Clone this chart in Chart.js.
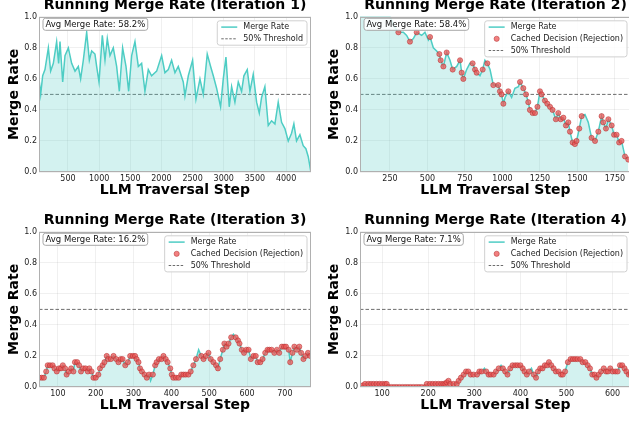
<!DOCTYPE html>
<html>
<head>
<meta charset="utf-8">
<script src="https://cdn.jsdelivr.net/npm/chart.js@4.4.1/dist/chart.umd.min.js"></script>
<style>
  body { margin: 0; background: #fff; }
  #wrap { position: relative; width: 629px; height: 421px; overflow: hidden; background: #fff; }
  #wrap canvas { position: absolute; }
</style>
</head>
<body>
<div id="wrap">
  <canvas id="c1" width="320" height="210" style="left:0px;top:-10px"></canvas>
  <canvas id="c2" width="320" height="210" style="left:320px;top:-10px"></canvas>
  <canvas id="c3" width="320" height="210" style="left:0px;top:205px"></canvas>
  <canvas id="c4" width="320" height="210" style="left:320px;top:205px"></canvas>
</div>
<script>
// 値は画像から目視で読み取り
const titles = [
  "Running Merge Rate (Iteration 1)",
  "Running Merge Rate (Iteration 2)",
  "Running Merge Rate (Iteration 3)",
  "Running Merge Rate (Iteration 4)"
];
const avgRates = ["58.2%", "58.4%", "16.2%", "7.1%"];
const threshold = 0.5;
const yTicks = [0, 0.2, 0.4, 0.6, 0.8, 1.0];

const xTicks1 = [500, 1000, 1500, 2000, 2500, 3000, 3500, 4000];
const xTicks2 = [250, 500, 750, 1000, 1250, 1500, 1750];
const xTicks3 = [100, 200, 300, 400, 500, 600, 700];
const xTicks4 = [100, 200, 300, 400, 500, 600];
const xRange1 = [35, 4400];
const xRange2 = [50, 1857];
const xRange3 = [50, 769];
const xRange4 = [52, 640];

// Iteration 1
const steps1 = [35, 62, 94, 131, 185, 222, 265, 318, 350, 372,
  415, 452, 506, 559, 613, 666, 703, 746, 800, 843,
  880, 933, 960, 998, 1051, 1094, 1131, 1174, 1227, 1281,
  1324, 1377, 1431, 1474, 1522, 1575, 1629, 1682, 1735, 1789,
  1842, 1923, 2003, 2056, 2110, 2163, 2217, 2270, 2350, 2377,
  2431, 2500, 2554, 2618, 2671, 2735, 2789, 2832, 2885, 2949,
  2992, 3035, 3088, 3126, 3179, 3233, 3286, 3323, 3377, 3420,
  3473, 3527, 3570, 3607, 3660, 3714, 3767, 3821, 3874, 3928,
  3981, 4035, 4088, 4125, 4168, 4222, 4275, 4318, 4355, 4398];
const rate1 = [0.60, 0.50, 0.62, 0.66, 0.80, 0.65, 0.70, 0.84, 0.70, 0.84,
  0.58, 0.75, 0.80, 0.70, 0.65, 0.68, 0.60, 0.72, 0.90, 0.72,
  0.78, 0.76, 0.68, 0.58, 0.88, 0.72, 0.86, 0.75, 0.80, 0.68,
  0.52, 0.80, 0.68, 0.52, 0.75, 0.84, 0.68, 0.70, 0.52, 0.66,
  0.62, 0.65, 0.75, 0.64, 0.66, 0.72, 0.64, 0.68, 0.58, 0.49,
  0.62, 0.72, 0.47, 0.60, 0.50, 0.76, 0.68, 0.62, 0.54, 0.42,
  0.60, 0.74, 0.42, 0.55, 0.45, 0.58, 0.52, 0.62, 0.66, 0.52,
  0.63, 0.45, 0.38, 0.48, 0.55, 0.30, 0.33, 0.31, 0.45, 0.32,
  0.28, 0.20, 0.25, 0.31, 0.20, 0.24, 0.17, 0.15, 0.10, 0.00];

// Iteration 2
const steps2 = [50, 250, 283, 306, 339, 361, 383, 406, 428, 461,
  483, 506, 517, 539, 561, 579, 588, 606, 628, 650,
  668, 695, 717, 728, 739, 761, 783, 801, 817, 828,
  850, 868, 883, 899, 917, 939, 957, 972, 983, 994,
  1006, 1017, 1039, 1061, 1083, 1106, 1117, 1139, 1157, 1172,
  1183, 1201, 1217, 1233, 1250, 1261, 1283, 1299, 1317, 1334,
  1356, 1372, 1388, 1406, 1423, 1439, 1450, 1468, 1483, 1494,
  1512, 1528, 1550, 1572, 1594, 1617, 1639, 1661, 1672, 1690,
  1706, 1728, 1744, 1761, 1778, 1794, 1817, 1839];
const rate2 = [1.00, 1.00, 0.93, 0.90, 0.90, 0.88, 0.84, 0.86, 0.90, 0.88,
  0.90, 0.85, 0.87, 0.80, 0.78, 0.76, 0.72, 0.68, 0.77, 0.72,
  0.66, 0.68, 0.72, 0.64, 0.60, 0.66, 0.70, 0.70, 0.66, 0.64,
  0.62, 0.66, 0.72, 0.70, 0.66, 0.56, 0.56, 0.56, 0.52, 0.50,
  0.44, 0.48, 0.52, 0.48, 0.54, 0.55, 0.58, 0.54, 0.50, 0.45,
  0.40, 0.38, 0.38, 0.42, 0.52, 0.50, 0.46, 0.44, 0.42, 0.40,
  0.34, 0.38, 0.34, 0.35, 0.30, 0.32, 0.26, 0.19, 0.18, 0.20,
  0.28, 0.36, 0.37, 0.32, 0.22, 0.20, 0.26, 0.36, 0.32, 0.28,
  0.34, 0.30, 0.24, 0.24, 0.19, 0.20, 0.10, 0.08];
const cached2 = [0, 0, 0, 1, 0, 0, 1, 0, 1, 0,
  0, 0, 1, 0, 0, 1, 1, 1, 1, 0,
  1, 0, 1, 1, 1, 0, 0, 1, 1, 1,
  0, 1, 0, 1, 0, 1, 0, 1, 1, 1,
  1, 0, 1, 0, 0, 0, 1, 1, 1, 1,
  1, 1, 1, 1, 1, 1, 1, 1, 1, 1,
  1, 1, 1, 1, 1, 1, 1, 1, 1, 1,
  1, 1, 0, 0, 1, 1, 1, 1, 1, 1,
  1, 1, 1, 1, 1, 1, 1, 1];

// Iteration 3
const steps3 = [50, 57, 63, 69, 73, 79, 86, 91, 97, 103,
  108, 113, 119, 123, 129, 135, 141, 145, 151, 156,
  161, 167, 173, 179, 183, 189, 194, 200, 207, 211,
  218, 223, 229, 233, 240, 247, 254, 260, 266, 271,
  278, 285, 291, 298, 304, 308, 313, 317, 322, 329,
  335, 341, 345, 351, 357, 361, 367, 374, 379, 385,
  390, 397, 401, 405, 412, 419, 426, 432, 438, 445,
  451, 458, 465, 472, 479, 485, 491, 498, 504, 511,
  518, 523, 529, 536, 540, 546, 551, 558, 564, 570,
  576, 580, 586, 592, 598, 604, 610, 617, 623, 628,
  635, 641, 648, 654, 659, 665, 672, 679, 685, 692,
  698, 703, 710, 714, 720, 725, 732, 738, 743, 749,
  755, 761, 767];
const rate3 = [0.06, 0.06, 0.06, 0.10, 0.14, 0.14, 0.14, 0.12, 0.10, 0.12,
  0.12, 0.14, 0.12, 0.08, 0.10, 0.12, 0.10, 0.16, 0.16, 0.14,
  0.10, 0.12, 0.12, 0.10, 0.12, 0.10, 0.06, 0.06, 0.08, 0.12,
  0.14, 0.16, 0.20, 0.18, 0.18, 0.20, 0.18, 0.16, 0.18, 0.18,
  0.14, 0.16, 0.20, 0.20, 0.20, 0.18, 0.16, 0.12, 0.10, 0.08,
  0.06, 0.08, 0.04, 0.08, 0.14, 0.16, 0.18, 0.18, 0.20, 0.18,
  0.16, 0.12, 0.08, 0.06, 0.06, 0.06, 0.08, 0.08, 0.08, 0.08,
  0.10, 0.14, 0.18, 0.24, 0.20, 0.18, 0.20, 0.22, 0.18, 0.16,
  0.14, 0.12, 0.18, 0.24, 0.28, 0.26, 0.28, 0.32, 0.34, 0.32,
  0.30, 0.28, 0.24, 0.22, 0.24, 0.24, 0.18, 0.20, 0.20, 0.16,
  0.16, 0.18, 0.22, 0.24, 0.24, 0.24, 0.22, 0.24, 0.22, 0.26,
  0.26, 0.26, 0.24, 0.16, 0.22, 0.26, 0.24, 0.26, 0.22, 0.18,
  0.20, 0.22, 0.20];
const cached3 = [1, 1, 1, 1, 1, 1, 1, 1, 1, 1,
  1, 1, 1, 1, 1, 1, 1, 1, 1, 1,
  1, 1, 1, 1, 1, 1, 1, 1, 1, 1,
  1, 1, 1, 1, 1, 1, 1, 1, 1, 1,
  1, 1, 1, 1, 1, 1, 1, 1, 1, 1,
  1, 1, 0, 1, 1, 1, 1, 1, 1, 1,
  1, 1, 1, 1, 1, 1, 1, 1, 1, 1,
  1, 1, 1, 0, 1, 1, 1, 1, 1, 1,
  1, 1, 1, 1, 1, 1, 1, 1, 0, 1,
  1, 1, 1, 1, 1, 1, 1, 1, 1, 1,
  1, 1, 1, 1, 1, 1, 1, 1, 1, 1,
  1, 1, 1, 1, 1, 1, 1, 1, 1, 1,
  1, 1, 1];

// Iteration 4
const steps4 = [52, 58, 63, 70, 76, 82, 88, 94, 100, 106,
  110, 114, 120, 126, 132, 138, 144, 150, 156, 162,
  168, 174, 180, 186, 193, 197, 204, 210, 216, 222,
  228, 233, 237, 240, 244, 248, 255, 262, 266, 271,
  277, 282, 287, 292, 298, 306, 311, 316, 322, 326,
  331, 336, 342, 347, 353, 358, 362, 367, 372, 378,
  383, 389, 394, 400, 405, 409, 414, 419, 424, 429,
  434, 438, 443, 448, 453, 458, 462, 467, 472, 477,
  483, 488, 492, 497, 503, 509, 514, 519, 524, 530,
  535, 541, 546, 551, 556, 561, 565, 570, 575, 581,
  586, 590, 595, 600, 606, 611, 616, 621, 626, 630,
  635, 640];
const rate4 = [0.00, 0.01, 0.02, 0.02, 0.02, 0.02, 0.02, 0.02, 0.02, 0.02,
  0.02, 0.00, 0.00, 0.00, 0.00, 0.00, 0.00, 0.00, 0.00, 0.00,
  0.00, 0.00, 0.00, 0.00, 0.00, 0.02, 0.02, 0.02, 0.02, 0.02,
  0.02, 0.02, 0.02, 0.03, 0.04, 0.02, 0.02, 0.02, 0.04, 0.06,
  0.08, 0.10, 0.10, 0.08, 0.08, 0.08, 0.10, 0.10, 0.12, 0.10,
  0.08, 0.08, 0.08, 0.10, 0.12, 0.14, 0.12, 0.10, 0.08, 0.12,
  0.14, 0.14, 0.14, 0.14, 0.12, 0.10, 0.08, 0.10, 0.12, 0.08,
  0.06, 0.10, 0.12, 0.12, 0.14, 0.14, 0.16, 0.14, 0.12, 0.10,
  0.10, 0.08, 0.08, 0.10, 0.16, 0.18, 0.18, 0.18, 0.18, 0.18,
  0.16, 0.16, 0.14, 0.12, 0.08, 0.08, 0.06, 0.08, 0.10, 0.12,
  0.10, 0.10, 0.12, 0.10, 0.10, 0.10, 0.14, 0.14, 0.12, 0.10,
  0.08, 0.08];
const cached4 = [1, 1, 1, 1, 1, 1, 1, 1, 1, 1,
  1, 1, 1, 1, 1, 1, 1, 1, 1, 1,
  1, 1, 1, 1, 1, 1, 1, 1, 1, 1,
  1, 1, 1, 1, 1, 1, 1, 1, 1, 1,
  1, 1, 1, 1, 1, 1, 1, 1, 0, 1,
  1, 1, 1, 1, 1, 0, 1, 1, 1, 1,
  1, 1, 1, 1, 1, 1, 1, 1, 0, 1,
  1, 1, 1, 1, 1, 1, 1, 1, 1, 1,
  1, 1, 1, 1, 1, 1, 1, 1, 1, 1,
  1, 1, 1, 1, 1, 1, 1, 1, 1, 1,
  1, 1, 1, 1, 1, 1, 1, 1, 1, 1,
  1, 1];

const TEAL = "#4ECDC4";
const TEAL_FILL = "rgba(78, 205, 196, 0.25)";
const DOT_FILL = "rgba(238, 85, 85, 0.75)";
const DOT_EDGE = "rgba(170, 40, 40, 0.8)";
const DASH_COLOR = "rgba(60, 60, 60, 0.75)";

Chart.defaults.font.family = "'DejaVu Sans', sans-serif";
Chart.defaults.color = "#222";

// 凡例と平均値ボックス、枠線をプロット内に描く
const panelNotes = {
  id: "panelNotes",
  afterDraw(chart, args, opts) {
    const { ctx, chartArea: a } = chart;
    ctx.save();
    // 枠線
    ctx.strokeStyle = "#b0b0b0";
    ctx.lineWidth = 1;
    ctx.strokeRect(Math.round(a.left) + 0.5, Math.round(a.top) + 0.5,
      Math.round(a.right - a.left) - 1, Math.round(a.bottom - a.top) - 1);

    // Avg Merge Rate ボックス
    ctx.font = "8.5px 'DejaVu Sans'";
    const avgText = "Avg Merge Rate: " + opts.avg;
    const aw = ctx.measureText(avgText).width + 5;
    roundRect(ctx, a.left + 4, a.top + 1.5, aw, 12, 2.5);
    ctx.fillStyle = "rgba(255,255,255,0.85)";
    ctx.fill();
    ctx.strokeStyle = "#a8a8a8";
    ctx.stroke();
    ctx.fillStyle = "#111";
    ctx.textBaseline = "middle";
    ctx.fillText(avgText, a.left + 6.5, a.top + 7.8);

    // 凡例
    ctx.font = "8px 'DejaVu Sans'";
    const items = opts.items;
    const maxW = Math.max(...items.map(it => ctx.measureText(it.text).width));
    const bw = 26 + maxW + 4;
    const rowH = 11.7;
    const bh = items.length * rowH + 1;
    const bx = a.right - 4 - bw;
    const by = a.top + 4;
    roundRect(ctx, bx, by, bw, bh, 2.5);
    ctx.fillStyle = "rgba(255,255,255,0.85)";
    ctx.fill();
    ctx.strokeStyle = "#d0d0d0";
    ctx.stroke();
    items.forEach((it, i) => {
      const cy = by + 6.3 + i * rowH;
      if (it.kind === "dot") {
        ctx.beginPath();
        ctx.arc(bx + 12, cy, 2.6, 0, Math.PI * 2);
        ctx.fillStyle = DOT_FILL;
        ctx.fill();
        ctx.strokeStyle = DOT_EDGE;
        ctx.lineWidth = 0.6;
        ctx.stroke();
      } else {
        ctx.beginPath();
        ctx.moveTo(bx + 4, cy);
        ctx.lineTo(bx + 20, cy);
        ctx.strokeStyle = it.kind === "line" ? TEAL : DASH_COLOR;
        ctx.lineWidth = it.kind === "line" ? 1.5 : 1;
        ctx.setLineDash(it.kind === "line" ? [] : [2.5, 1.5]);
        ctx.stroke();
        ctx.setLineDash([]);
      }
      ctx.fillStyle = "#222";
      ctx.fillText(it.text, bx + 26, cy);
    });
    ctx.restore();
  }
};

function roundRect(ctx, x, y, w, h, r) {
  ctx.beginPath();
  ctx.moveTo(x + r, y);
  ctx.arcTo(x + w, y, x + w, y + h, r);
  ctx.arcTo(x + w, y + h, x, y + h, r);
  ctx.arcTo(x, y + h, x, y, r);
  ctx.arcTo(x, y, x + w, y, r);
  ctx.closePath();
}

function makePanel(id, title, steps, rate, cached, xTicks, xRange, avg, yWidth) {
  const datasets = [];
  const items = [{ kind: "line", text: "Merge Rate" }];
  if (cached) {
    datasets.push({
      label: "Cached Decision (Rejection)",
      data: steps.map((s, i) => cached[i] ? { x: s, y: rate[i] } : null).filter(p => p),
      showLine: false,
      pointRadius: 2.6,
      pointBackgroundColor: DOT_FILL,
      pointBorderColor: DOT_EDGE,
      pointBorderWidth: 0.6,
      clip: 0,
      order: 0
    });
    items.push({ kind: "dot", text: "Cached Decision (Rejection)" });
  }
  items.push({ kind: "dash", text: "50% Threshold" });

  datasets.push({
    label: "Merge Rate",
    data: steps.map((s, i) => ({ x: s, y: rate[i] })),
    borderColor: TEAL,
    backgroundColor: TEAL_FILL,
    borderWidth: 1.5,
    pointRadius: 0,
    tension: 0,
    fill: "origin",
    order: 1
  });
  datasets.push({
    label: "50% Threshold",
    data: [{ x: xRange[0], y: threshold }, { x: xRange[1], y: threshold }],
    borderColor: DASH_COLOR,
    borderWidth: 1,
    borderDash: [3.5, 2],
    pointRadius: 0,
    fill: false,
    order: 2
  });

  new Chart(document.getElementById(id), {
    type: "line",
    data: { datasets },
    plugins: [panelNotes],
    options: {
      responsive: false,
      devicePixelRatio: 1,
      animation: false,
      events: [],
      layout: { padding: { left: 0, right: 9, top: 0, bottom: 0 } },
      scales: {
        x: {
          type: "linear",
          min: xRange[0],
          max: xRange[1],
          afterBuildTicks: s => { s.ticks = xTicks.map(v => ({ value: v })); },
          afterFit: s => { s.height = 28; },
          ticks: {
            callback: v => String(v),
            font: { size: 8 },
            color: "#222",
            padding: 2,
            maxRotation: 0,
            autoSkip: false
          },
          grid: { color: "rgba(0,0,0,0.06)", drawTicks: false },
          border: { display: false },
          title: {
            display: true,
            text: "LLM Traversal Step",
            color: "#000",
            font: { size: 14, weight: "bold" },
            padding: { top: 0, bottom: 1.6 }
          }
        },
        y: {
          min: 0,
          max: 1,
          afterBuildTicks: s => { s.ticks = yTicks.map(v => ({ value: v })); },
          afterFit: s => { s.width = yWidth; },
          ticks: {
            callback: v => v.toFixed(1),
            font: { size: 8 },
            color: "#222",
            padding: 2
          },
          grid: { color: "rgba(0,0,0,0.06)", drawTicks: false },
          border: { display: false },
          title: {
            display: true,
            text: "Merge Rate",
            color: "#000",
            font: { size: 14, weight: "bold" },
            padding: { top: 5.6, bottom: 0 }
          }
        }
      },
      plugins: {
        legend: { display: false },
        tooltip: { enabled: false },
        title: {
          display: true,
          fullSize: false,
          text: title,
          color: "#000",
          font: { size: 14, weight: "bold" },
          padding: { top: 6.5, bottom: 3.5 }
        },
        panelNotes: { avg, items }
      }
    }
  });
}

makePanel("c1", titles[0], steps1, rate1, null, xTicks1, xRange1, avgRates[0], 39);
makePanel("c2", titles[1], steps2, rate2, cached2, xTicks2, xRange2, avgRates[1], 40);
makePanel("c3", titles[2], steps3, rate3, cached3, xTicks3, xRange3, avgRates[2], 39);
makePanel("c4", titles[3], steps4, rate4, cached4, xTicks4, xRange4, avgRates[3], 40);
</script>
</body>
</html>
